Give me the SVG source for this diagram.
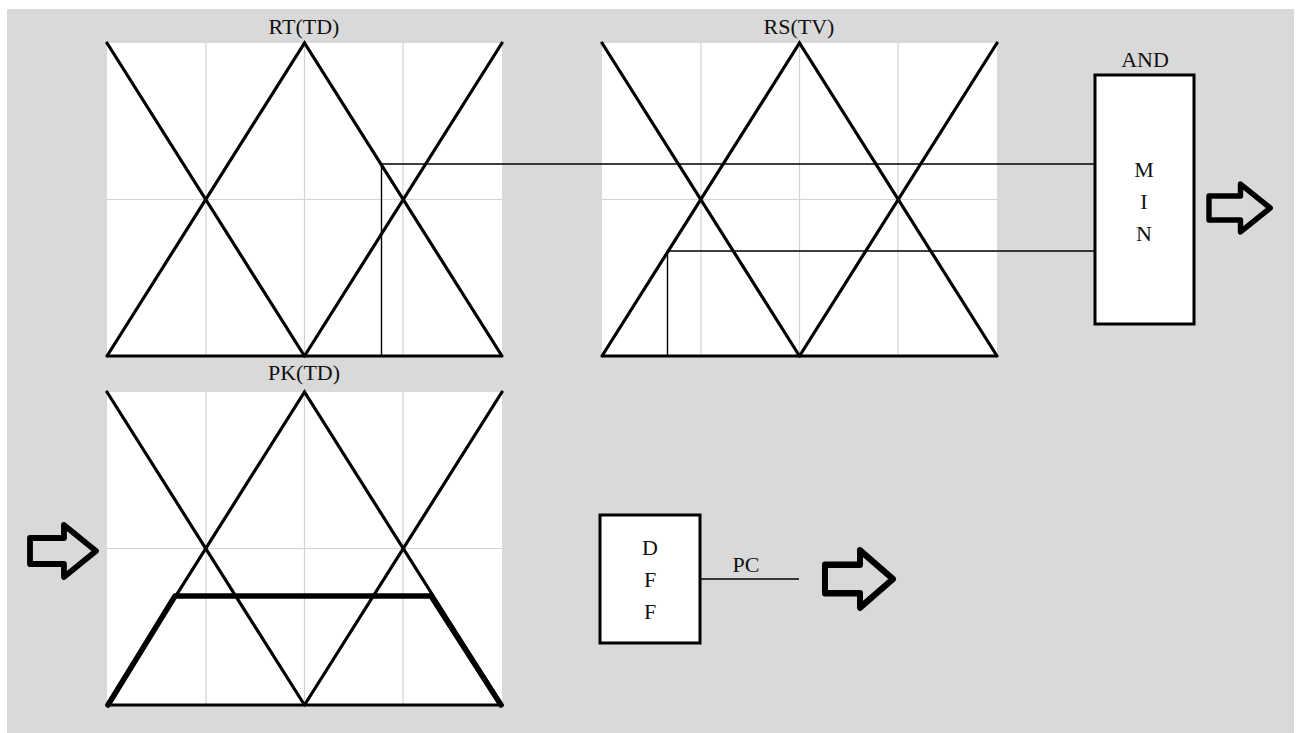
<svg xmlns="http://www.w3.org/2000/svg" width="1301" height="733" viewBox="0 0 1301 733">
  <style>
    .bg { fill: #d9d9d9; }
    .panel { fill: #ffffff; }
    .grid { stroke: #d2d2d2; stroke-width: 1.2; fill: none; }
    .mf { stroke: #000; stroke-width: 3.2; fill: none; stroke-linecap: round; }
    .base { stroke: #000; stroke-width: 3.2; fill: none; }
    .thin { stroke: #000; stroke-width: 1.4; fill: none; }
    .cut { stroke: #000; stroke-width: 5.5; fill: none; stroke-linecap: round; stroke-linejoin: round; }
    .box { fill: #ffffff; stroke: #000; stroke-width: 3; }
    .arrow { fill: none; stroke: #000; stroke-width: 6; stroke-linejoin: round; }
    .lbl { font-family: "Liberation Serif", "Times New Roman", serif; font-size: 22px; fill: #111; text-anchor: middle; }
  </style>
  <defs>
    <!-- three overlapping triangular membership functions on a 395 x 313 grid -->
    <g id="mfset">
      <rect class="panel" x="0" y="0" width="395" height="313"/>
      <line class="grid" x1="99" y1="0" x2="99" y2="313"/>
      <line class="grid" x1="197.5" y1="0" x2="197.5" y2="313"/>
      <line class="grid" x1="296" y1="0" x2="296" y2="313"/>
      <line class="grid" x1="0" y1="156.5" x2="395" y2="156.5"/>
      <polyline class="mf" points="0,0 197.5,313"/>
      <polyline class="mf" points="0,313 197.5,0 395,313"/>
      <polyline class="mf" points="197.5,313 395,0"/>
      <line class="base" x1="0" y1="313" x2="395" y2="313"/>
    </g>
    <path id="hollow-arrow" d="M0,-13 H35 V-26 L68,0 L35,26 V13 H0 Z"/>
  </defs>

  <rect class="bg" x="7" y="9" width="1287" height="724"/>

  <g id="rt-td">
    <use href="#mfset" x="107" y="43"/>
    <text class="lbl" x="304" y="34">RT(TD)</text>
  </g>

  <g id="rs-tv">
    <use href="#mfset" x="602" y="43"/>
    <text class="lbl" x="799" y="34">RS(TV)</text>
  </g>

  <g id="pk-td">
    <use href="#mfset" x="107" y="392"/>
    <text class="lbl" x="304" y="380">PK(TD)</text>
    <!-- clipped output set -->
    <polyline class="cut" points="108,705 175,596 431,596 501,705"/>
  </g>

  <g id="and-min">
    <rect class="box" x="1095" y="75" width="99" height="249"/>
    <text class="lbl" x="1145" y="67">AND</text>
    <text class="lbl" x="1144" y="177">M</text>
    <text class="lbl" x="1144" y="209">I</text>
    <text class="lbl" x="1144" y="241">N</text>
  </g>

  <g id="dff">
    <rect class="box" x="600" y="515" width="100" height="128"/>
    <text class="lbl" x="650" y="555">D</text>
    <text class="lbl" x="650" y="587">F</text>
    <text class="lbl" x="650" y="619">F</text>
  </g>

  <g id="connectors">
    <!-- firing levels read from the input sets into the MIN block -->
    <polyline class="thin" points="381.5,356 381.5,164 1095,164"/>
    <polyline class="thin" points="667.5,356 667.5,251 1095,251"/>
    <line class="thin" x1="700" y1="579" x2="799" y2="579"/>
    <text class="lbl" x="746" y="572">PC</text>
  </g>

  <g id="arrows">
    <use href="#hollow-arrow" class="arrow" transform="translate(30,551) scale(0.97,1)"/>
    <use href="#hollow-arrow" class="arrow" transform="translate(1209,208) scale(0.9,0.92)"/>
    <use href="#hollow-arrow" class="arrow" transform="translate(825,579) scale(1.0,1.1)"/>
  </g>
</svg>
